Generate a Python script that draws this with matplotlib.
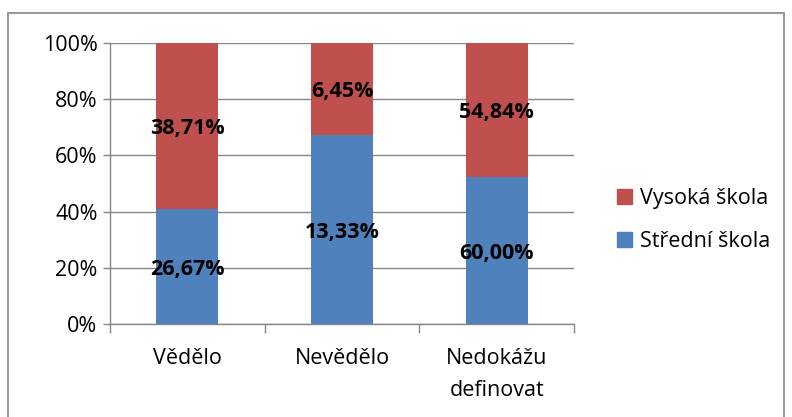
import numpy as np
import matplotlib.pyplot as plt
from matplotlib.patches import Rectangle, Patch

plt.rcParams['font.family'] = ['Open Sans', 'DejaVu Sans']

categories = ['Vědělo', 'Nevědělo', 'Nedokážu\ndefinovat']
stredni = [26.67, 13.33, 60.00]
vysoka = [38.71, 6.45, 54.84]
stredni_lbl = ['26,67%', '13,33%', '60,00%']
vysoka_lbl = ['38,71%', '6,45%', '54,84%']

blue = '#4F81BD'
red = '#C0504D'
grey = '#868686'

s = np.array(stredni)
v = np.array(vysoka)
tot = s + v
s_pct = s / tot * 100
v_pct = v / tot * 100
x = np.arange(len(categories))

fig = plt.figure(figsize=(7.92, 4.17), dpi=100)
ax = fig.add_axes([110/792, 1 - 324/417, 464/792, 281/417])

ax.bar(x, s_pct, width=0.4, color=blue, zorder=3)
ax.bar(x, v_pct, width=0.4, bottom=s_pct, color=red, zorder=3)

fs = 15.5
for i in range(len(x)):
    ax.text(x[i], s_pct[i] / 2 - 1, stredni_lbl[i], ha='center', va='center',
            fontsize=fs, fontweight='bold', zorder=4)
    ax.text(x[i], s_pct[i] + v_pct[i] / 2 - 1, vysoka_lbl[i], ha='center', va='center',
            fontsize=fs, fontweight='bold', zorder=4)

ax.set_xlim(-0.5, 2.5)
ax.set_ylim(0, 100)
ax.set_yticks(np.arange(0, 101, 20))
ax.set_yticklabels([f'{t}%' for t in range(0, 101, 20)], fontsize=fs)
ax.set_xticks(x)
ax.set_xticklabels(categories, fontsize=fs, linespacing=1.7)
ax.set_xticks([-0.5, 0.5, 1.5, 2.5], minor=True)
ax.tick_params(axis='x', which='major', length=0, pad=17)
ax.tick_params(axis='x', which='minor', length=6.5, color=grey, width=1)
ax.tick_params(axis='y', length=5, color=grey, width=1, pad=4)
ax.grid(axis='y', color=grey, linewidth=1, zorder=0)
for sp in ['top', 'right']:
    ax.spines[sp].set_visible(False)
for sp in ['left', 'bottom']:
    ax.spines[sp].set_color(grey)
    ax.spines[sp].set_linewidth(1)

handles = [Patch(color=red, label='Vysoká škola'), Patch(color=blue, label='Střední škola')]
fig.legend(handles=handles, loc='center left', bbox_to_anchor=(598/792, 1 - 220/417),
           frameon=False, fontsize=fs, handlelength=0.7, handleheight=0.7,
           handletextpad=0.35, labelspacing=1.05)

fig.patches.append(Rectangle((8/792, -0.05), 776/792, 1.05 - 13/417, transform=fig.transFigure,
                             fill=False, edgecolor=grey, linewidth=1.2))

fig.savefig('out.png', dpi=100)
